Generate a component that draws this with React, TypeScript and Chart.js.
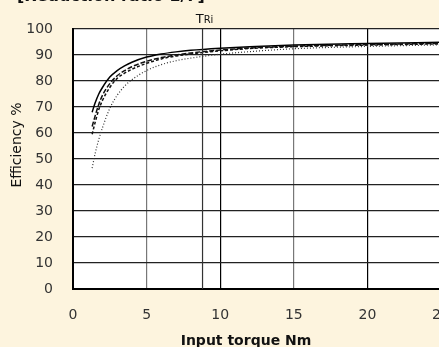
import React, { useEffect, useRef } from "react";
import { Chart, registerables } from "chart.js";

Chart.register(...registerables);

const torque = [1.3, 1.5, 1.75, 2, 2.5, 3, 3.5, 4, 5, 6, 7, 8, 10, 12, 15, 20, 25];
const effSolid = [68, 71.5, 75, 77.5, 81.5, 84, 85.8, 87.2, 89.2, 90.4, 91.2, 91.8, 92.6, 93.2, 93.8, 94.4, 94.9];
const effDash1 = [62.5, 66.5, 71, 74.5, 79, 82, 84, 85.5, 87.6, 89, 90, 90.8, 91.9, 92.7, 93.4, 94, 94.5];
const effDash2 = [59.5, 64, 69, 72.5, 77.5, 81, 83, 84.5, 86.8, 88.5, 89.6, 90.4, 91.6, 92.5, 93.2, 93.8, 94.3];
const effDot = [46.5, 52, 57.5, 62, 69.5, 74.5, 78, 80.5, 84, 86.3, 87.8, 88.8, 90.3, 91.3, 92.4, 93.3, 93.9];
const TRI = 8.8;
const xTickStep = 5;
const yTickStep = 10;
const titleText = "[Reduction ratio 1/7]";
const xTitle = "Input torque Nm";
const yTitle = "Efficiency %";

const BG = "#FDF4DE";
const FONT = "'DejaVu Sans', sans-serif";

export default function App() {
  const ref = useRef<HTMLCanvasElement | null>(null);
  useEffect(() => {
    const canvas = ref.current!;
    const pts = (ys: number[]) => torque.map((x, i) => ({ x, y: ys[i] }));
    const decor = {
      id: "decor",
      beforeDraw(chart: any) {
        const { ctx, chartArea: a } = chart;
        ctx.save();
        ctx.fillStyle = BG;
        ctx.fillRect(0, 0, chart.width, chart.height);
        ctx.fillStyle = "#fff";
        ctx.fillRect(a.left, a.top, a.right - a.left, a.bottom - a.top);
        ctx.restore();
      },
      afterDraw(chart: any) {
        const { ctx, chartArea: a, scales } = chart;
        ctx.save();
        ctx.fillStyle = "#111";
        ctx.font = `bold 16px ${FONT}`;
        ctx.textAlign = "left";
        ctx.textBaseline = "alphabetic";
        ctx.fillText(titleText, 17, 1);
        ctx.restore();
        ctx.save();
        ctx.fillStyle = "#111";
        ctx.font = `14px ${FONT}`;
        ctx.translate(21, (a.top + a.bottom) / 2 - 14);
        ctx.rotate(-Math.PI / 2);
        ctx.textAlign = "center";
        ctx.textBaseline = "alphabetic";
        ctx.fillText(yTitle, 0, 0);
        ctx.restore();
        ctx.save();
        ctx.fillStyle = "#111";
        ctx.font = `bold 14px ${FONT}`;
        ctx.textAlign = "center";
        ctx.textBaseline = "alphabetic";
        ctx.fillText(xTitle, 246, 345);
        const tx = scales.x.getPixelForValue(TRI);
        ctx.textAlign = "left";
        ctx.font = `13px ${FONT}`;
        const tw = ctx.measureText("T").width;
        ctx.font = `10px ${FONT}`;
        const rw = ctx.measureText("Ri").width;
        const sx = tx - (tw + rw) / 2 + 2;
        ctx.font = `13px ${FONT}`;
        ctx.fillText("T", sx, 23);
        ctx.font = `10px ${FONT}`;
        ctx.fillText("Ri", sx + tw, 23);
        ctx.restore();
      },
    };
    const chart = new Chart(canvas, {
      type: "line",
      data: {
        datasets: [
          { data: [{ x: TRI, y: 0 }, { x: TRI, y: 100 }], borderColor: "#333", borderWidth: 1.2, pointRadius: 0 },
          { data: pts(effDot), borderColor: "#333", borderWidth: 1.2, borderDash: [1, 2], pointRadius: 0, cubicInterpolationMode: "monotone" },
          { data: pts(effDash2), borderColor: "#111", borderWidth: 1.5, borderDash: [3, 2], pointRadius: 0, cubicInterpolationMode: "monotone" },
          { data: pts(effDash1), borderColor: "#111", borderWidth: 1.5, borderDash: [5, 2], pointRadius: 0, cubicInterpolationMode: "monotone" },
          { data: pts(effSolid), borderColor: "#000", borderWidth: 1.5, pointRadius: 0, cubicInterpolationMode: "monotone" },
        ],
      } as any,
      options: {
        animation: false,
        responsive: false,
        layout: { padding: { top: 29, right: 9, left: 0, bottom: 0 } },
        plugins: { legend: { display: false }, tooltip: { enabled: false } },
        scales: {
          x: {
            type: "linear",
            min: 0,
            max: 25,
            ticks: { stepSize: xTickStep, padding: 18, color: "#333", font: { family: FONT, size: 14 } },
            grid: {
              drawTicks: false,
              color: (c: any) => (c.tick && c.tick.value % 10 === 0 ? "#000" : "#777"),
              lineWidth: 1.2,
            },
            border: { display: true, color: "#000", width: 2 },
            afterFit(s: any) {
              s.height = 58;
              s.paddingLeft = 0;
              s.paddingRight = 0;
            },
          },
          y: {
            min: 0,
            max: 100,
            ticks: { stepSize: yTickStep, padding: 20, color: "#333", font: { family: FONT, size: 14 } },
            grid: { drawTicks: false, color: "#222", lineWidth: 1.2 },
            border: { display: true, color: "#000", width: 2 },
            afterFit(s: any) {
              s.width = 73;
              s.paddingTop = 0;
              s.paddingBottom = 0;
            },
          },
        },
      } as any,
      plugins: [decor],
    });
    return () => chart.destroy();
  }, []);
  return (
    <div style={{ position: "fixed", left: 0, top: 0, width: 439, height: 347, overflow: "hidden", background: BG }}>
      <canvas ref={ref} width={450} height={347} style={{ display: "block" }} />
    </div>
  );
}
